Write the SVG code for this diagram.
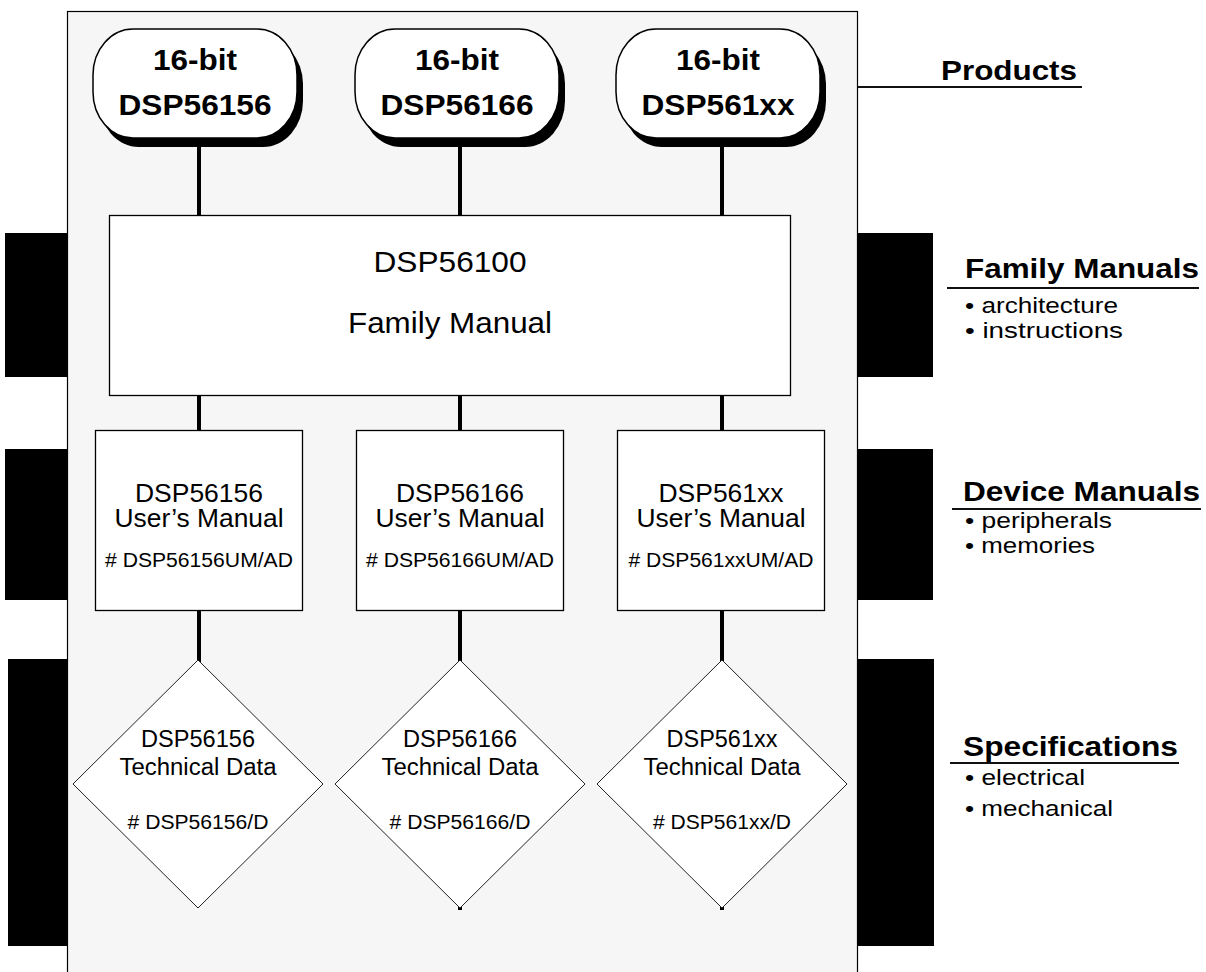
<svg xmlns="http://www.w3.org/2000/svg" width="1206" height="972" viewBox="0 0 1206 972">
<style>
text{font-family:"Liberation Sans",Arial,Helvetica,sans-serif;fill:#000;}
.pill{font-size:29px;font-weight:bold;text-anchor:middle;}
.fam{font-size:30px;text-anchor:middle;}
.um{font-size:25px;text-anchor:middle;}
.td{font-size:23px;text-anchor:middle;}
.code{font-size:20px;text-anchor:middle;}
.head{font-size:28px;font-weight:bold;}
.bul{font-size:22px;}
.box{fill:#fff;stroke:#000;stroke-width:1.3;}
.dia{fill:#fff;stroke:#222;stroke-width:1;}
.tab{fill:#000;}
.con{stroke:#000;stroke-width:4;fill:none;}
.ul{stroke:#111;stroke-width:2;}
</style>
<defs>
<rect id="pillshape" x="0" y="0" width="204" height="109" rx="40" ry="46"/>
</defs>

<g id="panel">
<rect x="67.5" y="11.5" width="790" height="990" fill="#f6f6f6" stroke="#000" stroke-width="1.2"/>
</g>

<g id="tabs">
<rect class="tab" x="5" y="233" width="62" height="144"/>
<rect class="tab" x="5" y="449" width="62" height="151"/>
<rect class="tab" x="8" y="659" width="59" height="287"/>
<rect class="tab" x="858" y="233" width="75" height="144"/>
<rect class="tab" x="858" y="449" width="75" height="151"/>
<rect class="tab" x="858" y="659" width="76" height="287"/>
</g>

<g id="connectors">
<line class="con" x1="199" y1="140" x2="199" y2="215"/>
<line class="con" x1="460" y1="140" x2="460" y2="215"/>
<line class="con" x1="722" y1="140" x2="722" y2="215"/>
<line class="con" x1="199" y1="395" x2="199" y2="430"/>
<line class="con" x1="460" y1="395" x2="460" y2="430"/>
<line class="con" x1="722" y1="395" x2="722" y2="430"/>
<line class="con" x1="199" y1="611" x2="199" y2="662"/>
<line class="con" x1="460" y1="611" x2="460" y2="662"/>
<line class="con" x1="722" y1="611" x2="722" y2="662"/>
<line class="con" x1="460" y1="905" x2="460" y2="910"/>
<line class="con" x1="722" y1="905" x2="722" y2="910"/>
<line x1="858" y1="87" x2="1082" y2="87" class="ul"/>
</g>

<g id="pill-dsp56156">
<use href="#pillshape" x="99" y="38" fill="#000"/>
<use href="#pillshape" x="93" y="29" fill="#fff" stroke="#000" stroke-width="1.5"/>
<text class="pill" x="195" y="70" textLength="84" lengthAdjust="spacingAndGlyphs">16-bit</text>
<text class="pill" x="195" y="115" textLength="153" lengthAdjust="spacingAndGlyphs">DSP56156</text>
</g>
<g id="pill-dsp56166">
<use href="#pillshape" x="361" y="38" fill="#000"/>
<use href="#pillshape" x="355" y="29" fill="#fff" stroke="#000" stroke-width="1.5"/>
<text class="pill" x="457" y="70" textLength="84" lengthAdjust="spacingAndGlyphs">16-bit</text>
<text class="pill" x="457" y="115" textLength="153" lengthAdjust="spacingAndGlyphs">DSP56166</text>
</g>
<g id="pill-dsp561xx">
<use href="#pillshape" x="622" y="38" fill="#000"/>
<use href="#pillshape" x="616" y="29" fill="#fff" stroke="#000" stroke-width="1.5"/>
<text class="pill" x="718" y="70" textLength="84" lengthAdjust="spacingAndGlyphs">16-bit</text>
<text class="pill" x="718" y="115" textLength="153" lengthAdjust="spacingAndGlyphs">DSP561xx</text>
</g>

<g id="family-manual">
<rect class="box" x="109.5" y="215.5" width="681" height="180"/>
<text class="fam" x="450" y="272" textLength="153" lengthAdjust="spacingAndGlyphs">DSP56100</text>
<text class="fam" x="450" y="333" textLength="204" lengthAdjust="spacingAndGlyphs">Family Manual</text>
</g>

<g id="um-dsp56156">
<rect class="box" x="95.5" y="430.5" width="207" height="180"/>
<text class="um" x="199" y="502" textLength="128" lengthAdjust="spacingAndGlyphs">DSP56156</text>
<text class="um" x="199" y="527" textLength="169" lengthAdjust="spacingAndGlyphs">User’s Manual</text>
<text class="code" x="199" y="567" textLength="188" lengthAdjust="spacingAndGlyphs"># DSP56156UM/AD</text>
</g>
<g id="um-dsp56166">
<rect class="box" x="356.5" y="430.5" width="207" height="180"/>
<text class="um" x="460" y="502" textLength="128" lengthAdjust="spacingAndGlyphs">DSP56166</text>
<text class="um" x="460" y="527" textLength="169" lengthAdjust="spacingAndGlyphs">User’s Manual</text>
<text class="code" x="460" y="567" textLength="188" lengthAdjust="spacingAndGlyphs"># DSP56166UM/AD</text>
</g>
<g id="um-dsp561xx">
<rect class="box" x="617.5" y="430.5" width="207" height="180"/>
<text class="um" x="721" y="502" textLength="125" lengthAdjust="spacingAndGlyphs">DSP561xx</text>
<text class="um" x="721" y="527" textLength="169" lengthAdjust="spacingAndGlyphs">User’s Manual</text>
<text class="code" x="721" y="567" textLength="185" lengthAdjust="spacingAndGlyphs"># DSP561xxUM/AD</text>
</g>

<g id="td-dsp56156">
<polygon class="dia" points="198,660 323,784 198,908 73,784"/>
<text class="td" x="198" y="747" textLength="114" lengthAdjust="spacingAndGlyphs">DSP56156</text>
<text class="td" x="198" y="775" textLength="157" lengthAdjust="spacingAndGlyphs">Technical Data</text>
<text class="code" x="198" y="829" textLength="141" lengthAdjust="spacingAndGlyphs"># DSP56156/D</text>
</g>
<g id="td-dsp56166">
<polygon class="dia" points="460,660 585,784 460,908 335,784"/>
<text class="td" x="460" y="747" textLength="114" lengthAdjust="spacingAndGlyphs">DSP56166</text>
<text class="td" x="460" y="775" textLength="157" lengthAdjust="spacingAndGlyphs">Technical Data</text>
<text class="code" x="460" y="829" textLength="141" lengthAdjust="spacingAndGlyphs"># DSP56166/D</text>
</g>
<g id="td-dsp561xx">
<polygon class="dia" points="722,660 847,784 722,908 597,784"/>
<text class="td" x="722" y="747" textLength="111" lengthAdjust="spacingAndGlyphs">DSP561xx</text>
<text class="td" x="722" y="775" textLength="157" lengthAdjust="spacingAndGlyphs">Technical Data</text>
<text class="code" x="722" y="829" textLength="138" lengthAdjust="spacingAndGlyphs"># DSP561xx/D</text>
</g>

<g id="legend-products">
<text class="head" x="941" y="80" textLength="136" lengthAdjust="spacingAndGlyphs">Products</text>
</g>
<g id="legend-family">
<text class="head" x="965" y="278" textLength="234" lengthAdjust="spacingAndGlyphs">Family Manuals</text>
<line class="ul" x1="947" y1="288" x2="1199" y2="288"/>
<text class="bul" x="965" y="313" textLength="153" lengthAdjust="spacingAndGlyphs">• architecture</text>
<text class="bul" x="965" y="338" textLength="158" lengthAdjust="spacingAndGlyphs">• instructions</text>
</g>
<g id="legend-device">
<text class="head" x="963" y="501" textLength="237" lengthAdjust="spacingAndGlyphs">Device Manuals</text>
<line class="ul" x1="952" y1="509" x2="1201" y2="509"/>
<text class="bul" x="965" y="528" textLength="147" lengthAdjust="spacingAndGlyphs">• peripherals</text>
<text class="bul" x="965" y="553" textLength="130" lengthAdjust="spacingAndGlyphs">• memories</text>
</g>
<g id="legend-spec">
<text class="head" x="963" y="756" textLength="215" lengthAdjust="spacingAndGlyphs">Specifications</text>
<line class="ul" x1="950" y1="763" x2="1179" y2="763"/>
<text class="bul" x="965" y="785" textLength="120" lengthAdjust="spacingAndGlyphs">• electrical</text>
<text class="bul" x="965" y="816" textLength="148" lengthAdjust="spacingAndGlyphs">• mechanical</text>
</g>
</svg>
